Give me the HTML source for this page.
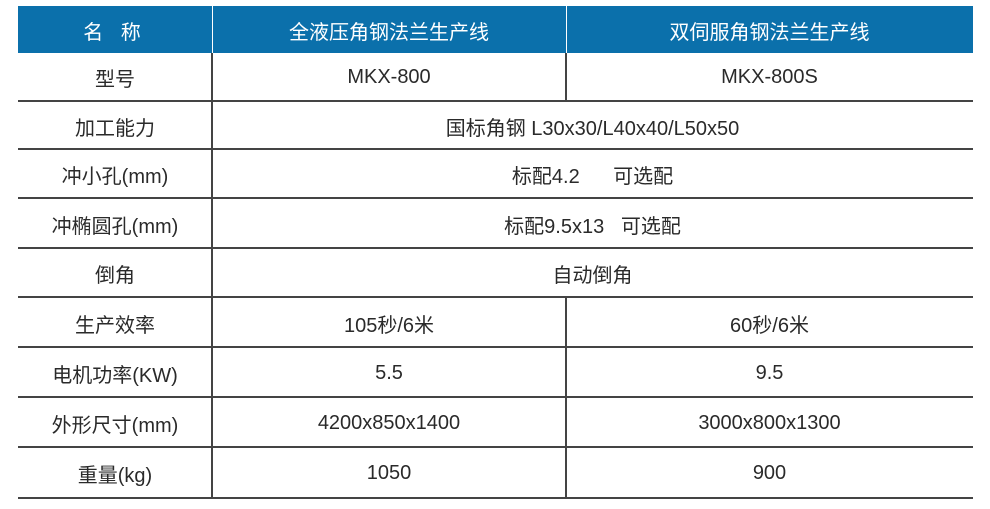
<!DOCTYPE html>
<html><head><meta charset="utf-8"><style>
body{margin:0;width:990px;height:509px;background:#fff;position:relative;overflow:hidden;font-family:"Liberation Sans","Noto Sans CJK SC",sans-serif;color:#2a2a2a;font-size:20px}
.hd{position:absolute;left:18px;top:6px;width:955px;height:47px;background:#0b70ab}
.t{position:absolute;display:flex;align-items:center;justify-content:center;white-space:pre;padding-top:2px;box-sizing:border-box}
.h{position:absolute;left:18px;width:955px;height:2px;background:#444}
.v{position:absolute;width:2px;background:#444}
</style></head><body>
<div class="hd"></div>
<div style="position:absolute;left:212px;top:6px;width:1px;height:47px;background:#fff"></div>
<div style="position:absolute;left:566px;top:6px;width:1px;height:47px;background:#fff"></div>
<div class="t" style="left:18px;width:194px;top:6px;height:47px;color:#fff;letter-spacing:6px">名 称</div>
<div class="t" style="left:212px;width:354px;top:6px;height:47px;color:#fff">全液压角钢法兰生产线</div>
<div class="t" style="left:566px;width:407px;top:6px;height:47px;color:#fff">双伺服角钢法兰生产线</div>

<div class="h" style="top:100px"></div>
<div class="h" style="top:148px"></div>
<div class="h" style="top:197px"></div>
<div class="h" style="top:247px"></div>
<div class="h" style="top:296px"></div>
<div class="h" style="top:346px"></div>
<div class="h" style="top:396px"></div>
<div class="h" style="top:446px"></div>
<div class="h" style="top:497px"></div>
<div class="v" style="left:211px;top:53px;height:446px"></div>
<div class="v" style="left:565px;top:53px;height:49px"></div>
<div class="v" style="left:565px;top:296px;height:203px"></div>

<div class="t" style="left:18px;width:194px;top:53px;height:47px">型号</div>
<div class="t" style="left:212px;width:354px;top:53px;height:47px">MKX-800</div>
<div class="t" style="left:566px;width:407px;top:53px;height:47px">MKX-800S</div>

<div class="t" style="left:18px;width:194px;top:102px;height:46px">加工能力</div>
<div class="t" style="left:212px;width:761px;top:102px;height:46px">国标角钢 L30x30/L40x40/L50x50</div>

<div class="t" style="left:18px;width:194px;top:150px;height:47px">冲小孔(mm)</div>
<div class="t" style="left:212px;width:761px;top:150px;height:47px">标配4.2      可选配</div>

<div class="t" style="left:18px;width:194px;top:199px;height:48px">冲椭圆孔(mm)</div>
<div class="t" style="left:212px;width:761px;top:199px;height:48px">标配9.5x13   可选配</div>

<div class="t" style="left:18px;width:194px;top:249px;height:47px">倒角</div>
<div class="t" style="left:212px;width:761px;top:249px;height:47px">自动倒角</div>

<div class="t" style="left:18px;width:194px;top:298px;height:48px">生产效率</div>
<div class="t" style="left:212px;width:354px;top:298px;height:48px">105秒/6米</div>
<div class="t" style="left:566px;width:407px;top:298px;height:48px">60秒/6米</div>

<div class="t" style="left:18px;width:194px;top:348px;height:48px">电机功率(KW)</div>
<div class="t" style="left:212px;width:354px;top:348px;height:48px">5.5</div>
<div class="t" style="left:566px;width:407px;top:348px;height:48px">9.5</div>

<div class="t" style="left:18px;width:194px;top:398px;height:48px">外形尺寸(mm)</div>
<div class="t" style="left:212px;width:354px;top:398px;height:48px">4200x850x1400</div>
<div class="t" style="left:566px;width:407px;top:398px;height:48px">3000x800x1300</div>

<div class="t" style="left:18px;width:194px;top:448px;height:49px">重量(kg)</div>
<div class="t" style="left:212px;width:354px;top:448px;height:49px">1050</div>
<div class="t" style="left:566px;width:407px;top:448px;height:49px">900</div>
</body></html>
